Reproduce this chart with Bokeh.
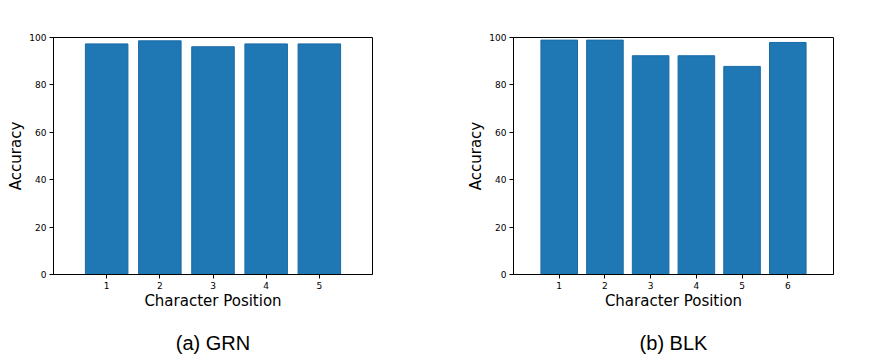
from bokeh.plotting import figure
from bokeh.layouts import row
from bokeh.models import Title, Range1d, FixedTicker
from bokeh.embed import file_html
from bokeh.resources import INLINE

# Data
grn_positions = [1, 2, 3, 4, 5]
grn_accuracy = [97.3, 98.6, 96.1, 97.3, 97.3]
blk_positions = [1, 2, 3, 4, 5, 6]
blk_accuracy = [98.9, 98.9, 92.3, 92.3, 87.8, 97.9]
y_ticks = [0, 20, 40, 60, 80, 100]
captions = ["(a) GRN", "(b) BLK"]

BAR = "#1f77b4"


def make_panel(xs, ys, caption, fw, left, right):
    p = figure(output_backend="svg", toolbar_location=None,
               frame_width=fw, frame_height=237,
               min_border_left=left, min_border_right=right,
               min_border_top=37, min_border_bottom=84,
               x_range=Range1d(0, len(xs) + 1), y_range=Range1d(0, 100))
    p.vbar(x=xs, top=ys, width=0.8, fill_color=BAR, line_color="#1a6aa6", line_width=1)
    p.xgrid.visible = False
    p.ygrid.visible = False
    p.outline_line_color = "black"
    p.outline_line_alpha = 1
    p.outline_line_width = 1
    p.xaxis.ticker = FixedTicker(ticks=xs)
    p.yaxis.ticker = FixedTicker(ticks=y_ticks)
    for ax in (p.xaxis, p.yaxis):
        ax.minor_tick_line_color = None
        ax.major_tick_in = 0
        ax.major_tick_out = 4
        ax.axis_line_color = "black"
        ax.major_tick_line_color = "black"
        ax.major_label_text_font = "DejaVu Sans"
        ax.major_label_text_font_size = "9px"
        ax.major_label_text_color = "black"
        ax.axis_label_text_font = "DejaVu Sans"
        ax.axis_label_text_font_size = "15px"
        ax.axis_label_text_font_style = "normal"
        ax.axis_label_text_color = "black"
        ax.major_label_standoff = 3
    p.xaxis.axis_label = "Character Position"
    p.yaxis.axis_label = "Accuracy"
    p.xaxis.axis_label_standoff = 0
    p.yaxis.axis_label_standoff = 1
    t = Title(text=caption, align="center", text_font="Liberation Sans",
              text_font_size="20px", text_font_style="normal", text_color="black",
              text_line_height=1.0, standoff=35)
    p.add_layout(t, "below")
    return p


p1 = make_panel(grn_positions, grn_accuracy, captions[0], 319, 53, 66)
p2 = make_panel(blk_positions, blk_accuracy, captions[1], 320, 75, 20)
layout = row(p1, p2)

open("out.html", "w").write(file_html(layout, INLINE))
